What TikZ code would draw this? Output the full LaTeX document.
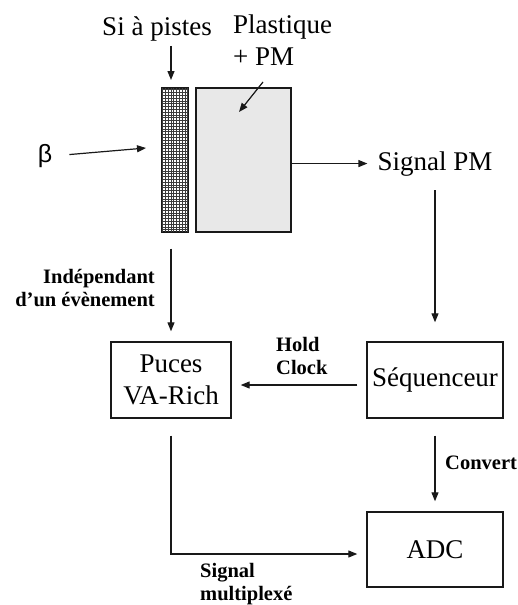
\documentclass[tikz,border=0pt]{standalone}
\usepackage{fontspec}
\setmainfont{Liberation Serif}
\newfontfamily\greekfont{Liberation Sans}
\usetikzlibrary{arrows.meta,positioning}
\definecolor{figline}{RGB}{25,25,25}
\definecolor{figfill}{RGB}{232,232,232}
\tikzset{
  box/.style  ={draw=figline, line width=1.4pt, minimum width=136pt, minimum height=76pt, inner sep=0pt},
  det/.style  ={draw=figline, line width=1.1pt, minimum height=144pt, inner sep=0pt},
  lab/.style  ={font=\fontsize{27}{32}\selectfont, inner sep=0pt},
  labb/.style ={font=\fontsize{20.5}{23.5}\selectfont\bfseries, inner sep=0pt},
  ptr/.style  ={draw=figline, line width=1.2pt, -{Triangle[length=9pt,width=7pt]}},
}
\begin{document}
\begin{tikzpicture}[x=1pt,y=-1pt]
  \useasboundingbox (0,0) rectangle (518,605);
  % detector
  \node[det, fill=white, minimum width=26pt] (sistrip) at (175,160) {};
  \draw[draw=figline!85, line width=0.5pt, step=2.8pt] (sistrip.south west) grid (sistrip.north east);
  \draw[draw=figline, line width=1.1pt] (sistrip.south west) rectangle (sistrip.north east);
  \node[det, fill=figfill, minimum width=95pt] (plast) at (243.5,160) {};
  % labels on the detector
  \node[lab, anchor=base] (silab) at (157,35) {Si à pistes};
  \node[lab, anchor=base west, align=left] (plastlab) at (233,65) {Plastique\\+ PM};
  \node[lab, font=\greekfont\fontsize{25}{30}\selectfont] (beta) at (45,156) {β};
  \node[lab, anchor=base] (sigpm) at (435,170) {Signal PM};
  \coordinate (siin) at (171,80);
  \coordinate (plasttail) at (263,82);
  \coordinate (plasttip) at (239,112);
  \coordinate (betatip) at (146,148);
  % blocks
  \node[box, lab, minimum width=120pt, align=center] (puces) at (171,380) {Puces\\VA-Rich};
  \node[box, lab] (seq) at (435,380) {Séquenceur};
  \node[box, lab, minimum height=75pt] (adc) at (435,549.5) {ADC};
  % bold labels
  \node[labb, anchor=east, align=right] (indep) at (155,288) {Indépendant\\d’un évènement};
  \node[labb, anchor=west, align=left] (hold) at (276,356) {Hold\\Clock};
  \node[labb, anchor=west] (conv) at (445,463) {Convert};
  \node[labb, anchor=west, align=left] (sigmux) at (200,584) {Signal\\multiplexé};
  % arrows
  \draw[ptr, shorten <=5pt] (silab.south -| siin) -- (siin);
  \draw[ptr] (plasttail) -- (plasttip);
  \draw[ptr, shorten <=17pt] (beta.east) -- (betatip);
  \draw[ptr, shorten >=10pt] (plast.east |- sigpm) -- (sigpm.west);
  \draw[ptr, shorten <=14pt, shorten >=19pt] (sigpm.south) -- (seq.north);
  \draw[ptr, shorten <=16pt, shorten >=10pt] (sistrip.south -| puces.north) -- (puces.north);
  \draw[ptr, shorten <=9pt, shorten >=9pt] ([yshift=-5pt]seq.west) -- ([yshift=-5pt]puces.east);
  \draw[ptr, shorten <=17pt, shorten >=10pt] (seq.south) -- (adc.north);
  \draw[ptr, shorten <=17pt, shorten >=9pt] (puces.south) |- ([yshift=-4.5pt]adc.west);
\end{tikzpicture}
\end{document}
